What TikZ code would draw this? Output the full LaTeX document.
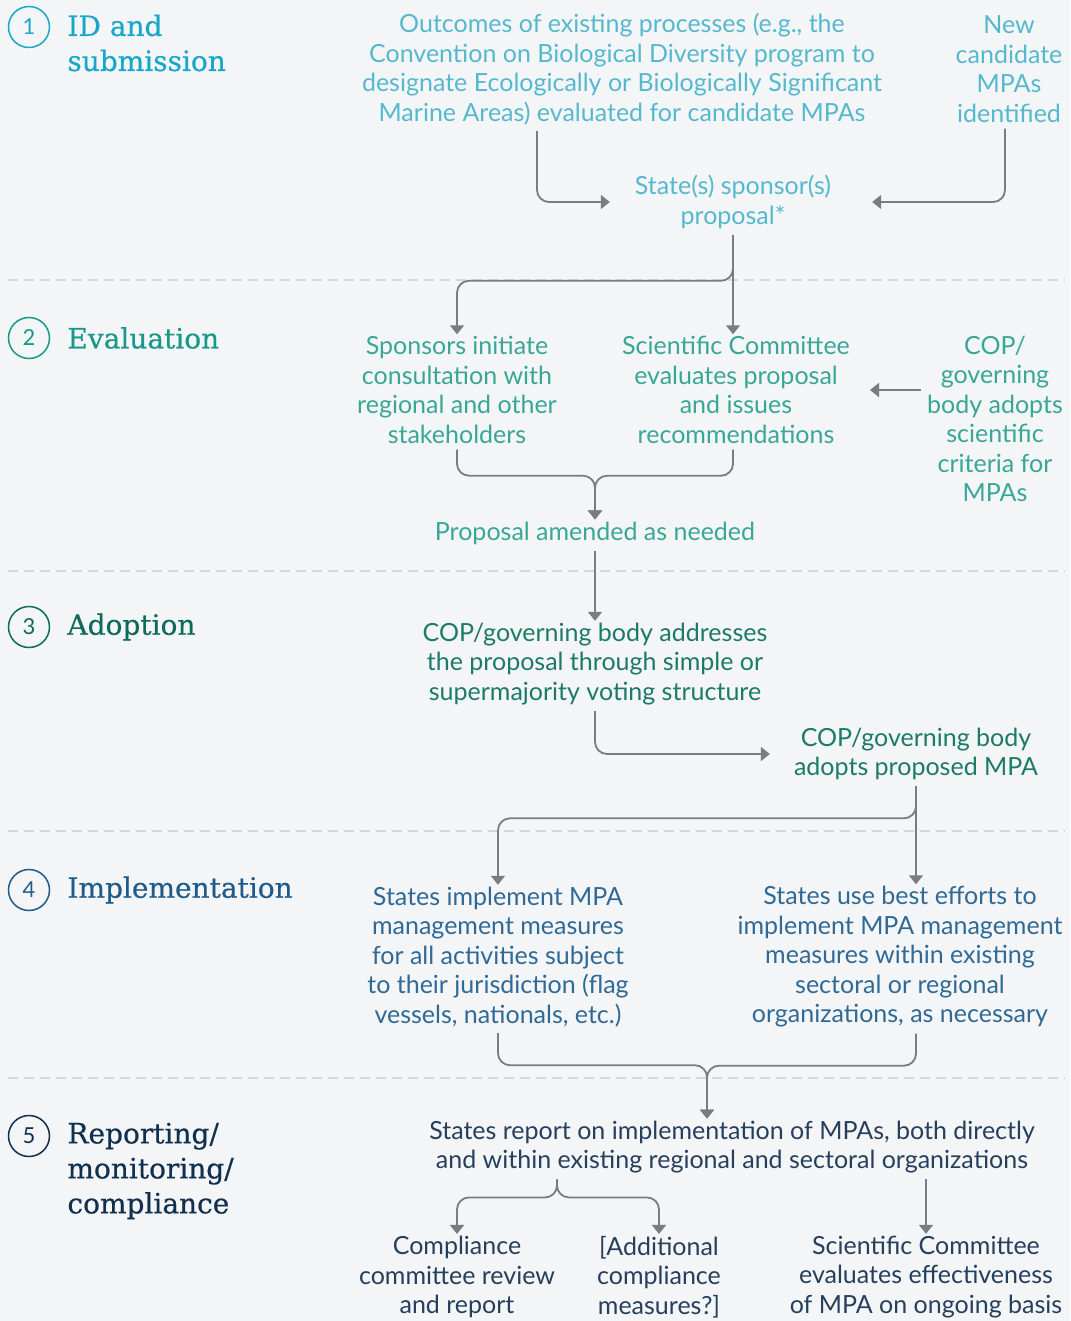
\documentclass[tikz,border=0pt]{standalone}
\usepackage{fontspec}
\setmainfont{Lato}
\newfontfamily\slabfont[FakeBold=0.5]{DejaVu Serif}
\usetikzlibrary{positioning, arrows.meta}

\definecolor{bgpage}{HTML}{F4F5F7}
\definecolor{cyanhead}{HTML}{17A8C9}
\definecolor{cyantext}{HTML}{55B9CE}
\definecolor{tealhead}{HTML}{17998A}
\definecolor{tealtext}{HTML}{38A797}
\definecolor{greenhead}{HTML}{0D6B5B}
\definecolor{greentext}{HTML}{1C7A69}
\definecolor{bluehead}{HTML}{1E5B8B}
\definecolor{bluetext}{HTML}{2F6A96}
\definecolor{navyhead}{HTML}{11304F}
\definecolor{navytext}{HTML}{263F5C}
\definecolor{arrowgray}{HTML}{7B7C80}
\definecolor{sepgray}{HTML}{D3D6DB}

\begin{document}
\begin{tikzpicture}[x=1pt, y=-1pt]
	\tikzset{
		>={Triangle[width=14pt,length=9pt]},
		stage/.style={align=center, inner sep=2pt, font=\fontsize{25}{29.5}\selectfont},
		s1/.style={stage, text=cyantext},
		s2/.style={stage, text=tealtext},
		s3/.style={stage, text=greentext},
		s4/.style={stage, text=bluetext},
		s5/.style={stage, text=navytext},
		num/.style={draw, circle, line width=1.5pt, minimum size=41pt, inner sep=0pt, font=\fontsize{22}{22}\selectfont},
		head/.style={anchor=west, align=left, inner sep=0pt, font=\slabfont\fontsize{28}{35}\selectfont},
		flow/.style={->, draw=arrowgray, line width=1.8pt, rounded corners=12pt, shorten <=4pt},
		sepline/.style={draw=sepgray, line width=1.2pt, dash pattern=on 10pt off 6pt}
	}

	% Page
	\fill[bgpage] (0,0) rectangle (1070,1321);
	\useasboundingbox (0,0) rectangle (1070,1321);
	\foreach \y in {280,571,831,1078}
		\draw[sepline] (8,\y) -- (1065,\y);

	% Stage numbers and headings
	\node[num, draw=cyanhead, text=cyanhead] (n1) at (29,27) {1};
	\node[num, draw=tealhead, text=tealhead] (n2) at (29,338) {2};
	\node[num, draw=greenhead, text=greenhead] (n3) at (29,627) {3};
	\node[num, draw=bluehead, text=bluehead] (n4) at (29,890) {4};
	\node[num, draw=navyhead, text=navyhead] (n5) at (29,1136) {5};

	\node[head, text=cyanhead, right=17pt of n1, yshift=-16pt] (h1) {ID and\\submission};
	\node[head, text=tealhead, right=17pt of n2] (h2) {Evaluation};
	\node[head, text=greenhead, right=17pt of n3] (h3) {Adoption};
	\node[head, text=bluehead, right=17pt of n4] (h4) {Implementation};
	\node[head, text=navyhead, right=17pt of n5, yshift=-35pt] (h5) {Reporting/\\monitoring/\\compliance};

	% ID and submission
	\node[s1] (outcomes) at (622,69) {Outcomes of existing processes (e.g., the\\Convention on Biological Diversity program to\\designate Ecologically or Biologically Significant\\Marine Areas) evaluated for candidate MPAs};
	\node[s1] (newmpa) at (1009,69) {New\\candidate\\MPAs\\identified};
	\node[s1, minimum width=250pt] (sponsor) at (733,202) {State(s) sponsor(s)\\proposal*};

	% Evaluation
	\node[s2] (initiate) at (457,390) {Sponsors initiate\\consultation with\\regional and other\\stakeholders};
	\node[s2] (scicomm) at (736,390) {Scientific Committee\\evaluates proposal\\and issues\\recommendations};
	\node[s2] (copcrit) at (995,419) {COP/\\governing\\body adopts\\scientific\\criteria for\\MPAs};
	\node[s2] (amended) at (595,533) {Proposal amended as needed};

	% Adoption
	\node[s3] (addresses) at (595,664) {COP/governing body addresses\\the proposal through simple or\\supermajority voting structure};
	\node[s3] (adopts) at (916,754) {COP/governing body\\adopts proposed MPA};

	% Implementation
	\node[s4] (implall) at (498,957) {States implement MPA\\management measures\\for all activities subject\\to their jurisdiction (flag\\vessels, nationals, etc.)};
	\node[s4] (implbest) at (900,957) {States use best efforts to\\implement MPA management\\measures within existing\\sectoral or regional\\organizations, as necessary};

	% Reporting
	\node[s5] (report) at (732,1147) {States report on implementation of MPAs, both directly\\and within existing regional and sectoral organizations};
	\node[s5] (review) at (457,1277) {Compliance\\committee review\\and report};
	\node[s5] (extra) at (659,1277) {[Additional\\compliance\\measures?]};
	\node[s5] (effective) at (926,1277) {Scientific Committee\\evaluates effectiveness\\of MPA on ongoing basis};

	% Connectors
	\draw[flow] ([xshift=-85pt]outcomes.south) |- ([xshift=2pt]sponsor.west);
	\draw[flow] ([xshift=-4pt]newmpa.south) |- ([xshift=14pt]sponsor.east);
	\draw[flow] (sponsor.south) -- (sponsor.south |- scicomm.north);
	\draw[flow] (sponsor.south) -- ++(0,50) -| (initiate.north);

	\draw[flow] (scicomm.east -| copcrit.west) -- ([xshift=18pt]scicomm.east);
	\draw[flow] (initiate.south) -- ++(0,30) -| (amended.north);
	\draw[flow] ([xshift=-3pt]scicomm.south) -- ++(0,30) -| (amended.north);
	\draw[flow] (amended.south) -- (addresses.north);

	\draw[flow] (addresses.south) |- ([xshift=-22pt]adopts.west);
	\draw[flow] (adopts.south) -- (adopts.south |- implbest.north);
	\draw[flow] (adopts.south) -- ++(0,36) -| (implall.north);

	\draw[flow] (implall.south) -- ++(0,36) -| ([xshift=-25pt]report.north);
	\draw[flow] ([xshift=16pt]implbest.south) -- ++(0,36) -| ([xshift=-25pt]report.north);

	\draw[flow] ([xshift=-175pt]report.south) -- ++(0,22) -| (review.north);
	\draw[flow] ([xshift=-175pt]report.south) -- ++(0,22) -| (extra.north);
	\draw[flow] (effective.north |- report.south) -- (effective.north);
\end{tikzpicture}
\end{document}
